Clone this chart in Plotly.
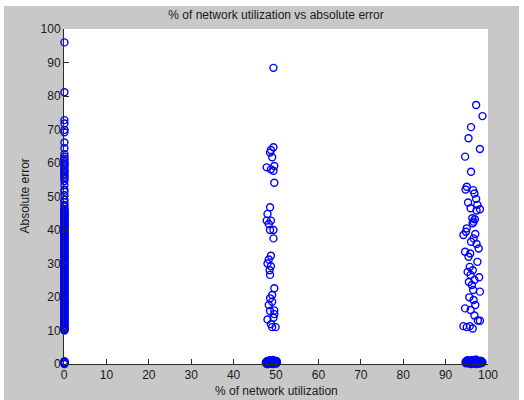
import plotly.graph_objects as go

# Absolute error samples grouped by network utilization level
idle_util = 0.1
idle_err = [
    96.0, 81.1, 72.8, 71.8, 69.9, 69.2, 66.1, 64.4, 62.6,
    61.9, 61.3, 60.8, 60.2, 59.7, 59.3, 58.8, 58.2, 57.7, 57.3, 56.8, 56.3,
    55.8, 55.3, 54.6, 53.4, 52.0, 51.4, 50.4, 49.0, 48.3, 47.5, 47.0, 46.3,
    46.0, 45.7, 45.5, 45.1, 44.8, 44.6, 44.3, 43.9, 43.7, 43.4, 43.0, 42.8,
    42.5, 42.2, 41.9, 41.6, 41.3, 41.1, 40.7, 40.4, 40.2, 39.9, 39.5, 39.3,
    39.0, 38.7, 38.4, 38.1, 37.8, 37.6, 37.2, 36.9, 36.7, 36.4, 36.0, 35.8,
    35.5, 35.2, 34.9, 34.6, 34.3, 34.1, 33.7, 33.4, 33.2, 32.9, 32.5, 32.3,
    32.0, 31.7, 31.4, 31.1, 30.8, 30.6, 30.2, 29.9, 29.7, 29.4, 29.0, 28.8,
    28.5, 28.2, 27.9, 27.6, 27.3, 27.1, 26.7, 26.4, 26.2, 25.9, 25.5, 25.3,
    25.0, 24.7, 24.4, 24.1, 23.8, 23.6, 23.2, 22.9, 22.7, 22.4, 22.0, 21.8,
    21.5, 21.2, 20.9, 20.6, 20.3, 20.1, 19.7, 19.4, 19.2, 18.9, 18.5, 18.3,
    18.0, 17.7, 17.4, 17.1, 16.8, 16.6, 16.2, 15.9, 15.7, 15.4, 15.0, 14.8,
    14.5, 14.2, 13.9, 13.6, 13.3, 13.1, 12.7, 12.4, 12.2, 11.9, 11.5, 11.3,
    11.0, 10.7, 10.4, 10.2, 10.0,
    0.0, 0.3, 0.6, 0.2, 0.8, 0.4,
]

half_util = [
    49.4, 49.4, 48.8, 48.6, 49.1, 47.8, 49.6, 48.8, 49.4, 49.6,
    48.6, 48.0, 47.8, 48.8, 48.3, 48.6, 49.4, 49.4,
    48.8, 48.3, 48.0, 48.8, 48.5, 48.6,
    49.6, 49.1, 48.6, 49.1, 48.3, 49.6, 49.6, 48.0, 48.8, 49.9, 49.1, 49.4, 48.6,
    47.6, 47.9, 48.2, 48.5, 48.8, 49.1, 49.4, 49.7, 50.0, 50.2,
    47.8, 48.3, 48.7, 49.2, 49.6, 50.0, 48.1, 49.0, 49.8,
    47.7, 48.0, 48.4, 48.9, 49.3, 49.5, 49.9, 50.1, 48.2, 48.6,
    49.0, 49.5, 49.8, 48.4, 48.9, 49.3, 47.9, 50.2, 48.7, 49.2,
]
half_err = [
    88.4, 64.7, 63.9, 63.1, 61.7, 58.7, 59.1, 58.1, 57.7, 54.1,
    46.8, 44.8, 42.8, 42.8, 41.8, 40.0, 40.0, 37.5,
    32.3, 31.2, 30.0, 29.2, 28.0, 26.6,
    22.6, 20.6, 19.6, 18.6, 17.6, 16.0, 14.9, 13.3, 11.9, 11.0, 11.0, 13.8, 15.8,
    0.4, 0.9, 0.2, 1.0, 0.5, 0.1, 0.8, 0.3, 0.6, 0.4,
    0.0, 0.6, 1.1, 0.2, 0.9, 0.1, 0.7, 0.3, 0.5,
    0.6, 0.3, 0.9, 0.5, 1.2, 0.2, 0.7, 0.9, 0.0, 1.1,
    0.4, 0.1, 0.6, 0.8, 0.3, 0.0, 0.5, 0.6, 1.0, 0.7,
]

full_util = [
    97.2, 98.7, 96.0, 95.4, 98.1, 94.6, 96.0, 95.0, 94.7, 96.5, 96.8, 97.2,
    95.3, 95.9, 98.1, 97.3, 96.3, 96.9, 96.6, 96.4, 94.2, 97.0, 96.6, 97.3,
    94.6, 95.8, 95.4, 95.7, 96.4, 95.9, 97.9, 96.8, 96.2, 98.1, 96.5, 95.6,
    96.6, 94.6, 97.0, 95.9, 98.1, 94.2, 95.7, 95.0, 96.4,
    95.0, 96.0, 97.5, 95.2, 96.8, 97.6, 95.5, 97.8, 94.8, 97.5,
    94.7, 95.1, 95.5, 95.9, 96.3, 96.7, 97.1, 97.5, 97.9, 98.3, 98.7,
    94.9, 95.3, 95.7, 96.1, 96.5, 96.9, 97.3, 97.7, 98.1, 98.5,
    94.8, 95.2, 95.6, 96.0, 96.4, 96.8, 97.2, 97.6, 98.0, 98.4,
    95.0, 95.4, 95.8, 96.2, 96.6, 97.0, 97.4, 97.8, 98.2, 98.6,
]
full_err = [
    77.3, 74.0, 70.7, 67.4, 64.2, 61.9, 57.4, 52.9, 52.1, 51.9, 50.9, 49.3,
    48.2, 46.5, 46.2, 45.8, 43.5, 43.2, 42.5, 42.0, 38.5, 38.8, 37.5, 35.8,
    33.5, 33.0, 32.0, 29.0, 28.0, 26.6, 25.9, 25.1, 23.6, 21.6, 22.1, 19.9,
    19.1, 16.6, 17.6, 16.1, 12.9, 11.3, 11.3, 11.0, 10.6,
    40.5, 36.5, 30.5, 27.5, 14.5, 13.0, 24.5, 34.5, 39.5, 47.5,
    0.5, 1.0, 0.2, 0.8, 0.4, 1.2, 0.1, 0.7, 0.3, 0.9, 0.5,
    0.9, 0.3, 0.6, 1.1, 0.2, 0.7, 0.0, 1.0, 0.4, 0.6,
    0.2, 1.1, 0.5, 0.0, 0.8, 0.3, 1.3, 0.6, 0.1, 0.9,
    0.7, 0.4, 1.0, 0.6, 0.2, 1.2, 0.5, 0.8, 0.3, 0.4,
]

x_ticks = list(range(0, 101, 10))
y_ticks = list(range(0, 101, 10))

util = [idle_util] * len(idle_err) + half_util + full_util
err = idle_err + half_err + full_err

axis_color = "#2b2b2b"
font = dict(family="Liberation Sans, Arial, sans-serif", size=12, color="#1a1a1a")

fig = go.Figure(
    go.Scatter(
        x=util,
        y=err,
        mode="markers",
        cliponaxis=False,
        marker=dict(
            symbol="circle-open",
            size=7,
            color="#0000ff",
            line=dict(width=1.4, color="#0000ff"),
        ),
        showlegend=False,
    )
)

axis_common = dict(
    range=[0, 100],
    showgrid=False,
    zeroline=False,
    showline=True,
    linecolor=axis_color,
    linewidth=1,
    ticks="inside",
    ticklen=5,
    tickwidth=1,
    tickcolor=axis_color,
    tickfont=font,
    mirror=False,
    fixedrange=True,
)

fig.update_xaxes(tickvals=x_ticks, **axis_common)
fig.update_yaxes(tickvals=y_ticks, **axis_common)

# Grey figure-window panel, then the white axes box on top of it
fig.add_shape(
    type="rect", xref="paper", yref="paper",
    x0=-0.1415, x1=1.0731, y0=-0.11, y1=1.0687,
    fillcolor="#c8c8c8", line=dict(width=0), layer="below",
)
fig.add_shape(
    type="rect", xref="paper", yref="paper",
    x0=0, x1=1, y0=0, y1=1,
    fillcolor="#ffffff", line=dict(width=0), layer="below",
)

fig.add_annotation(
    text="% of network utilization", xref="paper", yref="paper",
    x=0.5, y=-0.0806, yanchor="middle", xanchor="center",
    showarrow=False, font=font,
)
fig.add_annotation(
    text="Absolute error", xref="paper", yref="paper",
    x=-0.0943, y=0.5, yanchor="middle", xanchor="center",
    textangle=-90, showarrow=False, font=font,
)

fig.update_layout(
    width=524,
    height=400,
    margin=dict(l=64, r=36, t=29, b=36),
    paper_bgcolor="#ffffff",
    plot_bgcolor="#ffffff",
    title=dict(
        text="% of network utilization vs absolute error",
        x=0.5, xref="paper", xanchor="center",
        y=(400 - 15) / 400, yref="container", yanchor="middle",
        font=font,
    ),
)

fig.write_html("out.html")
